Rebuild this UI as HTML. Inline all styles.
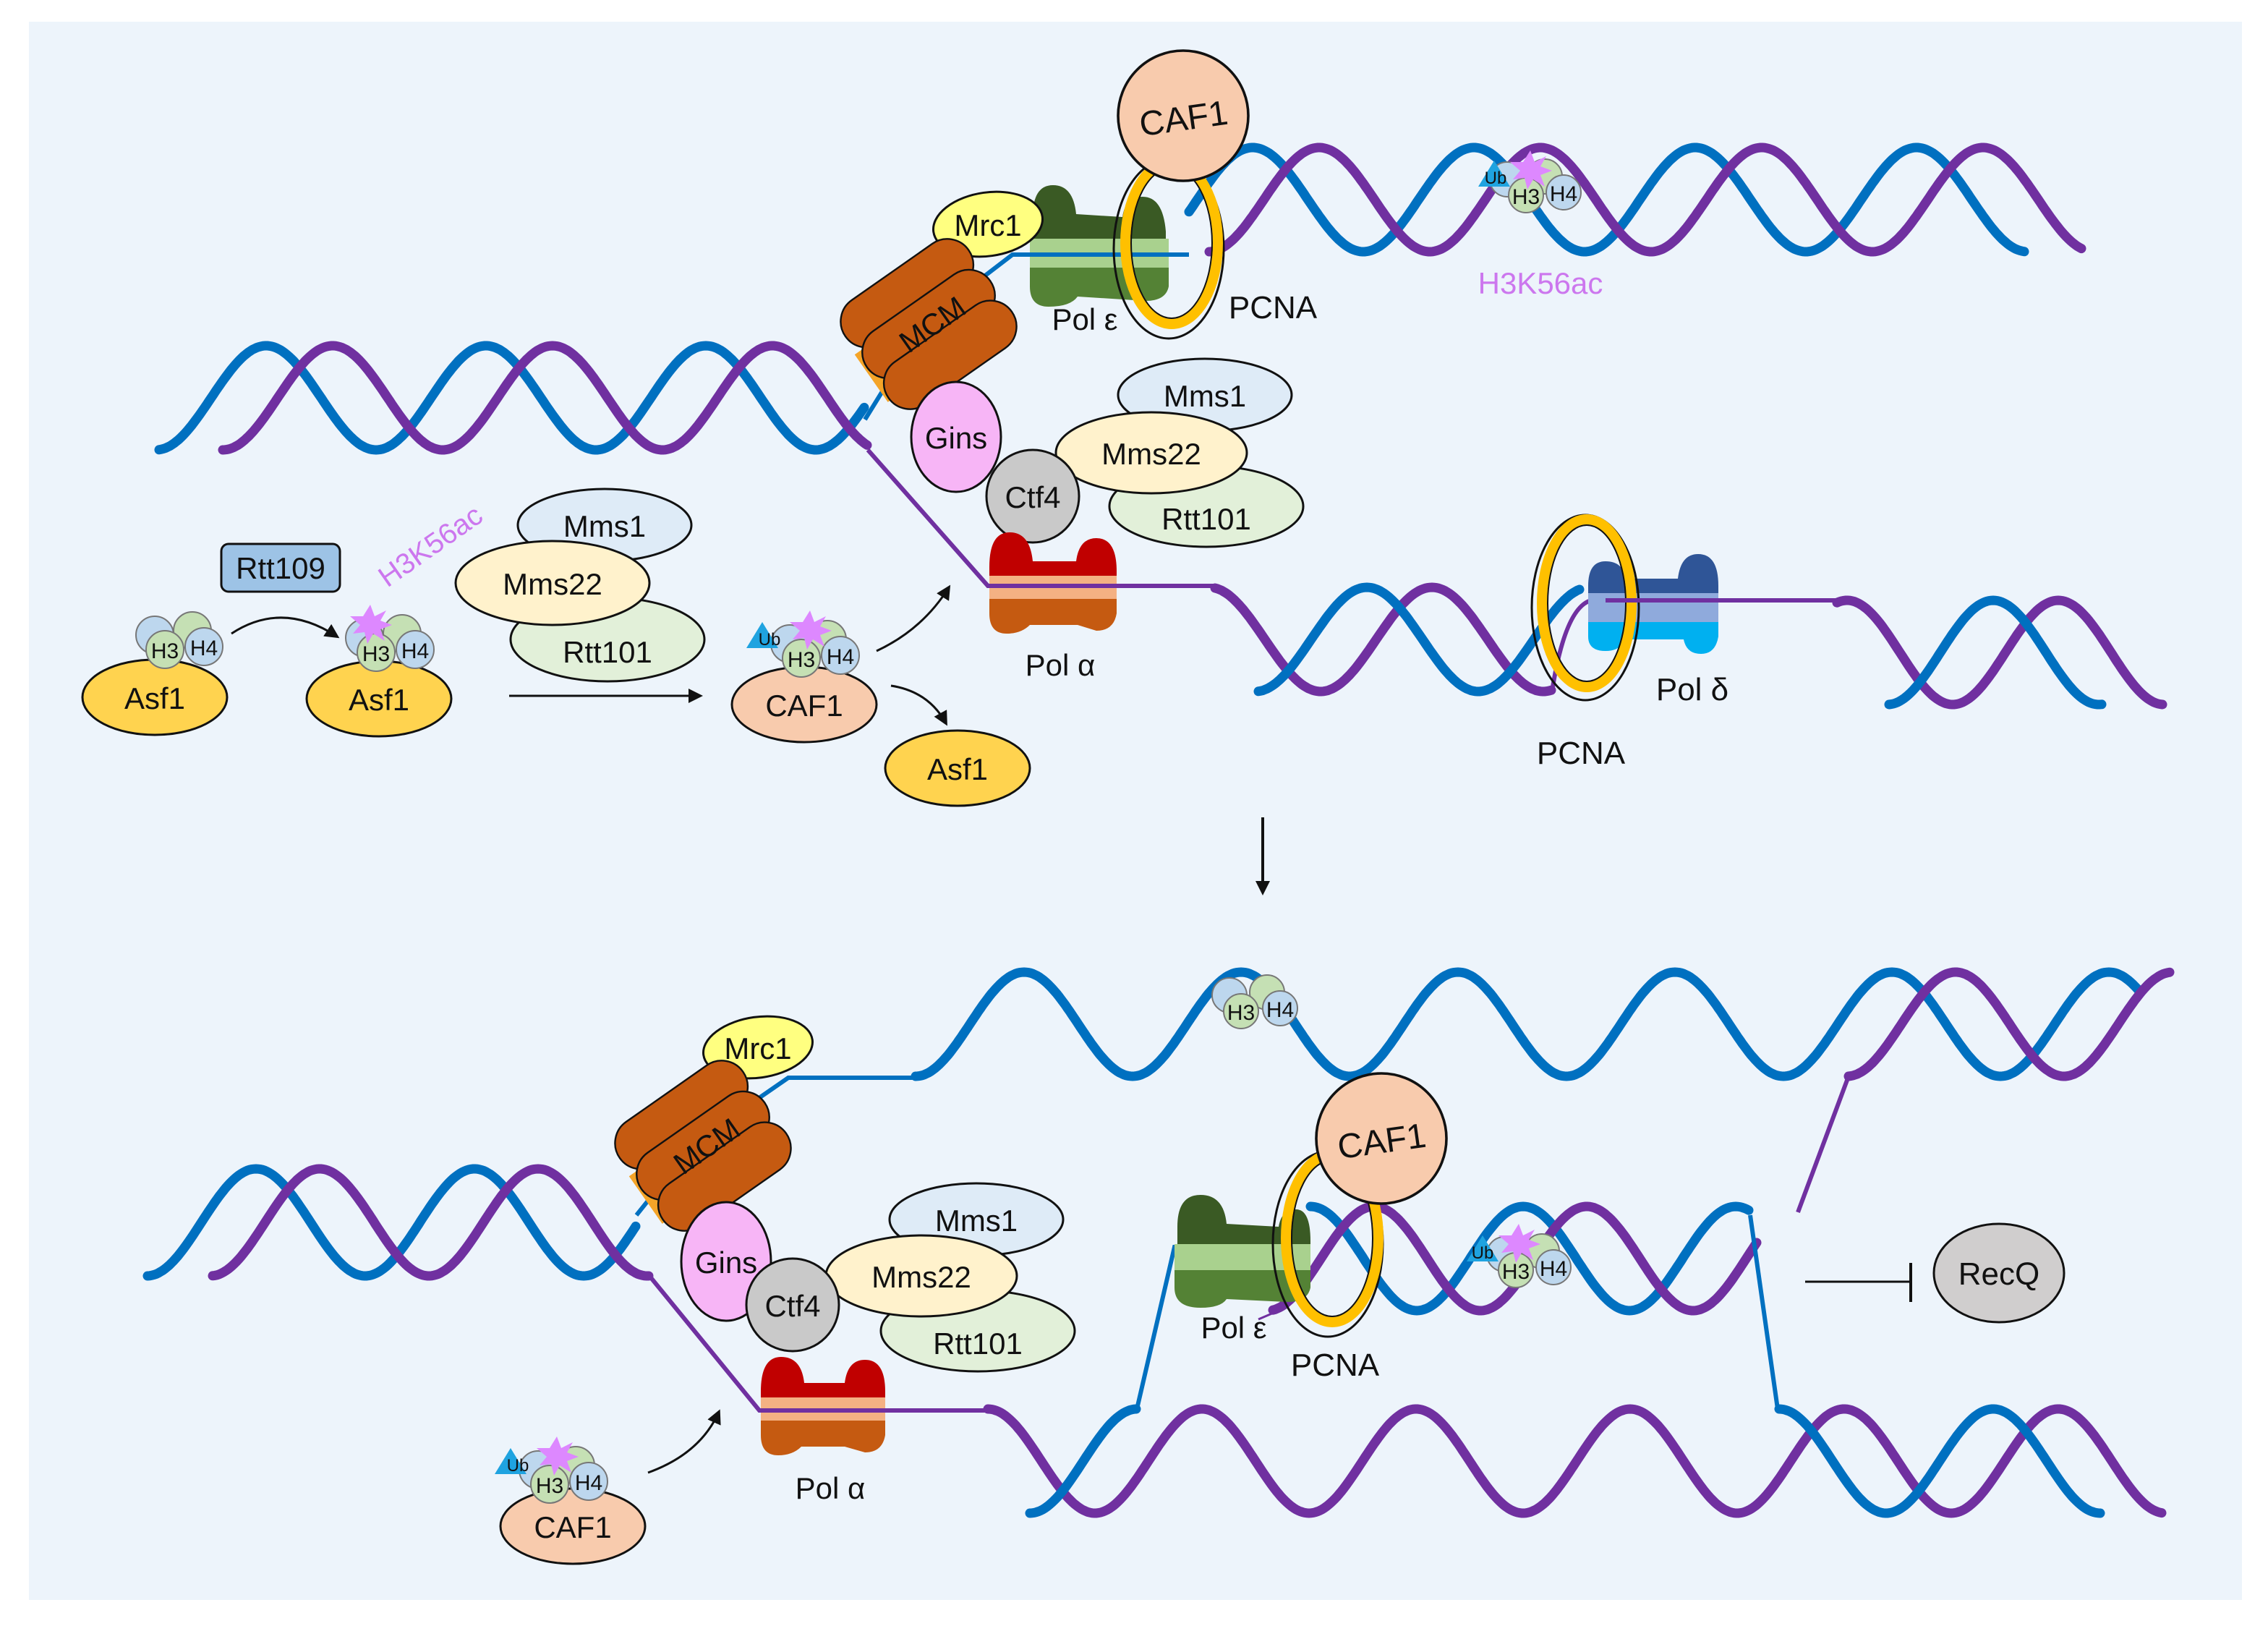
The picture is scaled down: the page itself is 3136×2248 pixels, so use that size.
<!DOCTYPE html>
<html><head><meta charset="utf-8"><style>
html,body{margin:0;padding:0;background:#fff}
svg{display:block}
text{font-family:"Liberation Sans",sans-serif;fill:#111}
</style></head><body>
<svg id="s" width="3136" height="2248" viewBox="0 0 1568 1124" xmlns="http://www.w3.org/2000/svg">
<defs>
<marker id="ah" markerWidth="10" markerHeight="10" refX="8" refY="5" orient="auto" markerUnits="userSpaceOnUse"><path d="M0,0 L10,5 L0,10 z" fill="#111"/></marker>
</defs>
<rect x="0" y="0" width="1568" height="1124" fill="#fff"/>
<rect x="20" y="15" width="1530" height="1091" fill="#edf4fb"/>
<g id="dna" fill="none" stroke-width="6.5" stroke-linecap="round"></g>
<g fill="none" stroke-width="3">
 <path d="M598,290 L640,222 L700,176 L822,176" stroke="#0070c0"/>
 <path d="M600,311 L683,405 L840,405" stroke="#7030a0"/>
 <path d="M1073,478 Q1082,420 1100,415 L1280,415" stroke="#7030a0"/>
 <path d="M440,840 L480,790 L545,745 L632,745" stroke="#0070c0"/>
 <path d="M449,882 L525,975 L690,975" stroke="#7030a0"/>
 <path d="M786,974 L812,862 L902,862" stroke="#0070c0"/>
 <path d="M1210,840 L1229,974" stroke="#0070c0"/>
 <path d="M1243,838 L1278,744" stroke="#7030a0"/>
</g>

<g>
 <path d="M714,150 Q714,128 728,128 Q742,128 744,148 L776,150 Q778,136 790,136 Q804,136 806,160 L806,170 L714,170 Z" fill="#3a5a24"/>
 <rect x="712" y="165" width="96" height="20" fill="#a9d18e"/>
 <path d="M712,185 L808,185 L808,198 Q806,208 792,208 L745,205 Q740,212 725,212 Q712,212 712,198 Z" fill="#548235"/>
 <line x1="712" y1="176" x2="822" y2="176" stroke="#0070c0" stroke-width="3"/>
</g>
<text x="750" y="228" font-size="21" text-anchor="middle">Pol ε</text>
<ellipse cx="808" cy="172" rx="38" ry="62" fill="none" stroke="#111" stroke-width="1.5"/>
<ellipse cx="810" cy="168" rx="32" ry="56" fill="none" stroke="#ffc000" stroke-width="7"/>
<ellipse cx="810" cy="168" rx="28" ry="52" fill="none" stroke="#111" stroke-width="1"/>
<circle cx="818" cy="80" r="45" fill="#f8cbad" stroke="#111" stroke-width="1.8"/>
<text x="818" y="90" font-size="24" text-anchor="middle" transform="rotate(-8 818 80)">CAF1</text>
<text x="880" y="220" font-size="22" text-anchor="middle">PCNA</text>
<ellipse cx="683" cy="155" rx="38" ry="22" fill="#ffff80" stroke="#111" stroke-width="1.5" transform="rotate(-8 683 155)"/>
<text x="683" y="163" font-size="21" text-anchor="middle">Mrc1</text>
<g transform="rotate(-35 642 224)">
 <rect x="588" y="212" width="10" height="40" fill="#f4a428"/>
 <rect x="590" y="180" width="104" height="36" rx="18" fill="#c55a11" stroke="#111" stroke-width="1.2"/>
 <rect x="590" y="206" width="104" height="36" rx="18" fill="#c55a11" stroke="#111" stroke-width="1.2"/>
 <rect x="590" y="232" width="104" height="36" rx="18" fill="#c55a11" stroke="#111" stroke-width="1.2"/>
 <text x="644" y="233" font-size="21" text-anchor="middle">MCM</text>
</g>
<ellipse cx="833" cy="273" rx="60" ry="25" fill="#deebf7" stroke="#111" stroke-width="1.5"/>
<text x="833" y="281" font-size="21" text-anchor="middle">Mms1</text>
<ellipse cx="834" cy="350" rx="67" ry="28" fill="#e2f0d9" stroke="#111" stroke-width="1.5"/>
<text x="834" y="366" font-size="21" text-anchor="middle">Rtt101</text>
<ellipse cx="796" cy="313" rx="66" ry="28" fill="#fff2cc" stroke="#111" stroke-width="1.5"/>
<text x="796" y="321" font-size="21" text-anchor="middle">Mms22</text>
<ellipse cx="661" cy="302" rx="31" ry="38" fill="#f7b5f6" stroke="#111" stroke-width="1.5"/>
<text x="661" y="310" font-size="21" text-anchor="middle">Gins</text>
<circle cx="714" cy="343" r="32" fill="#c9c9c9" stroke="#111" stroke-width="1.5"/>
<text x="714" y="351" font-size="21" text-anchor="middle">Ctf4</text>
<g>
 <path d="M684,392 Q684,368 698,368 Q712,368 714,388 L744,388 Q746,372 758,372 Q772,372 772,395 L772,400 L684,400 Z" fill="#c00000"/>
 <rect x="684" y="398" width="88" height="18" fill="#f4b183"/>
 <path d="M684,414 L772,414 L772,424 Q770,436 758,436 L745,432 L712,432 Q706,438 696,438 Q684,438 684,424 Z" fill="#c55a11"/>
 <line x1="684" y1="405" x2="772" y2="405" stroke="#7030a0" stroke-width="3"/>
</g>
<text x="733" y="467" font-size="21" text-anchor="middle">Pol α</text>
<g>
 <path d="M1098,405 Q1098,388 1110,388 Q1122,388 1124,400 L1160,400 Q1162,383 1174,383 Q1188,383 1188,405 L1188,412 L1098,412 Z" fill="#2f5597"/>
 <rect x="1098" y="410" width="90" height="22" fill="#8faadc"/>
 <path d="M1098,430 L1188,430 L1188,440 Q1186,452 1176,452 Q1166,452 1164,442 L1124,442 Q1120,450 1110,450 Q1098,450 1098,440 Z" fill="#00b0f0"/>
</g>
<ellipse cx="1096" cy="420" rx="37" ry="64" fill="none" stroke="#111" stroke-width="1.5"/>
<ellipse cx="1097" cy="417" rx="31" ry="58" fill="none" stroke="#ffc000" stroke-width="7"/>
<ellipse cx="1097" cy="417" rx="27" ry="54" fill="none" stroke="#111" stroke-width="1"/>
<path d="M1110,415 L1280,415" stroke="#7030a0" stroke-width="3"/>
<text x="1170" y="484" font-size="22" text-anchor="middle">Pol δ</text>
<text x="1093" y="528" font-size="22" text-anchor="middle">PCNA</text>
<g>
 <circle cx="1042" cy="124" r="12" fill="#bdd7ee" stroke="#777" stroke-width="1"/>
 <circle cx="1068" cy="122" r="12" fill="#c5e0b4" stroke="#777" stroke-width="1"/>
 <circle cx="1055" cy="135" r="12" fill="#c5e0b4" stroke="#777" stroke-width="1"/>
 <circle cx="1081" cy="133" r="12" fill="#bdd7ee" stroke="#777" stroke-width="1"/>
 <polygon points="1022,129 1033,111 1044,129" fill="#1fa3e0"/>
 <polygon points="1058,104 1061,112 1069,108 1065,115 1073,118 1065,121 1068,129 1060,124 1056,131 1054,123 1046,124 1051,118 1044,112 1053,112" fill="#dd88ff"/>
 <text x="1034" y="127" font-size="12" text-anchor="middle">Ub</text>
 <text x="1055" y="141" font-size="15" text-anchor="middle">H3</text>
 <text x="1081" y="139" font-size="15" text-anchor="middle">H4</text>
</g>
<text x="1065" y="203" font-size="21" text-anchor="middle" style="fill:#cc77ee">H3K56ac</text>

<ellipse cx="107" cy="482" rx="50" ry="26" fill="#ffd34f" stroke="#111" stroke-width="1.5"/>
<text x="107" y="490" font-size="21" text-anchor="middle">Asf1</text>
<g>
 <circle cx="107" cy="439" r="13" fill="#bdd7ee" stroke="#777"/>
 <circle cx="133" cy="436" r="13" fill="#c5e0b4" stroke="#777"/>
 <circle cx="114" cy="449" r="13" fill="#c5e0b4" stroke="#777"/>
 <circle cx="141" cy="447" r="13" fill="#bdd7ee" stroke="#777"/>
 <text x="114" y="455" font-size="15" text-anchor="middle">H3</text>
 <text x="141" y="453" font-size="15" text-anchor="middle">H4</text>
</g>
<path d="M160,438 Q195,415 233,440" fill="none" stroke="#111" stroke-width="1.5" marker-end="url(#ah)"/>
<rect x="153" y="376" width="82" height="33" rx="5" fill="#9dc3e6" stroke="#111" stroke-width="1.5"/>
<text x="194" y="400" font-size="21" text-anchor="middle">Rtt109</text>
<text x="298" y="384" font-size="20" text-anchor="middle" transform="rotate(-35 298 378)" style="fill:#cc77ee">H3K56ac</text>
<ellipse cx="262" cy="483" rx="50" ry="26" fill="#ffd34f" stroke="#111" stroke-width="1.5"/>
<text x="262" y="491" font-size="21" text-anchor="middle">Asf1</text>
<g>
 <circle cx="252" cy="441" r="13" fill="#bdd7ee" stroke="#777"/>
 <circle cx="278" cy="438" r="13" fill="#c5e0b4" stroke="#777"/>
 <circle cx="260" cy="451" r="13" fill="#c5e0b4" stroke="#777"/>
 <circle cx="287" cy="449" r="13" fill="#bdd7ee" stroke="#777"/>
 <polygon points="256,418 259,426 267,422 263,429 271,432 263,435 266,443 258,438 254,445 252,437 244,438 249,432 242,426 251,426" fill="#dd88ff"/>
 <text x="260" y="457" font-size="15" text-anchor="middle">H3</text>
 <text x="287" y="455" font-size="15" text-anchor="middle">H4</text>
</g>
<ellipse cx="418" cy="363" rx="60" ry="25" fill="#deebf7" stroke="#111" stroke-width="1.5"/>
<text x="418" y="371" font-size="21" text-anchor="middle">Mms1</text>
<ellipse cx="420" cy="442" rx="67" ry="29" fill="#e2f0d9" stroke="#111" stroke-width="1.5"/>
<text x="420" y="458" font-size="21" text-anchor="middle">Rtt101</text>
<ellipse cx="382" cy="403" rx="67" ry="29" fill="#fff2cc" stroke="#111" stroke-width="1.5"/>
<text x="382" y="411" font-size="21" text-anchor="middle">Mms22</text>
<line x1="352" y1="481" x2="484" y2="481" stroke="#111" stroke-width="1.5" marker-end="url(#ah)"/>
<ellipse cx="556" cy="487" rx="50" ry="26" fill="#f8cbad" stroke="#111" stroke-width="1.5"/>
<text x="556" y="495" font-size="21" text-anchor="middle">CAF1</text>
<g>
 <circle cx="546" cy="445" r="13" fill="#bdd7ee" stroke="#777"/>
 <circle cx="572" cy="442" r="13" fill="#c5e0b4" stroke="#777"/>
 <circle cx="554" cy="455" r="13" fill="#c5e0b4" stroke="#777"/>
 <circle cx="581" cy="453" r="13" fill="#bdd7ee" stroke="#777"/>
 <polygon points="516,448 527,430 538,448" fill="#1fa3e0"/>
 <polygon points="560,422 563,430 571,426 567,433 575,436 567,439 570,447 562,442 558,449 556,441 548,442 553,436 546,430 555,430" fill="#dd88ff"/>
 <text x="532" y="446" font-size="12" text-anchor="middle">Ub</text>
 <text x="554" y="461" font-size="15" text-anchor="middle">H3</text>
 <text x="581" y="459" font-size="15" text-anchor="middle">H4</text>
</g>
<path d="M606,450 Q638,435 656,406" fill="none" stroke="#111" stroke-width="1.5" marker-end="url(#ah)"/>
<path d="M616,474 Q642,478 654,500" fill="none" stroke="#111" stroke-width="1.5" marker-end="url(#ah)"/>
<ellipse cx="662" cy="531" rx="50" ry="26" fill="#ffd34f" stroke="#111" stroke-width="1.5"/>
<text x="662" y="539" font-size="21" text-anchor="middle">Asf1</text>
<line x1="873" y1="565" x2="873" y2="617" stroke="#111" stroke-width="2" marker-end="url(#ah)"/>

<g>
 <circle cx="850" cy="688" r="12" fill="#bdd7ee" stroke="#777"/>
 <circle cx="876" cy="686" r="12" fill="#c5e0b4" stroke="#777"/>
 <circle cx="858" cy="699" r="12" fill="#c5e0b4" stroke="#777"/>
 <circle cx="885" cy="697" r="12" fill="#bdd7ee" stroke="#777"/>
 <text x="858" y="705" font-size="15" text-anchor="middle">H3</text>
 <text x="885" y="703" font-size="15" text-anchor="middle">H4</text>
</g>
<ellipse cx="524" cy="724" rx="38" ry="21" fill="#ffff80" stroke="#111" stroke-width="1.5" transform="rotate(-8 524 724)"/>
<text x="524" y="732" font-size="21" text-anchor="middle">Mrc1</text>
<g transform="rotate(-35 486 792)">
 <rect x="432" y="780" width="10" height="40" fill="#f4a428"/>
 <rect x="434" y="748" width="104" height="36" rx="18" fill="#c55a11" stroke="#111" stroke-width="1.2"/>
 <rect x="434" y="774" width="104" height="36" rx="18" fill="#c55a11" stroke="#111" stroke-width="1.2"/>
 <rect x="434" y="800" width="104" height="36" rx="18" fill="#c55a11" stroke="#111" stroke-width="1.2"/>
 <text x="488" y="801" font-size="21" text-anchor="middle">MCM</text>
</g>
<ellipse cx="675" cy="843" rx="60" ry="25" fill="#deebf7" stroke="#111" stroke-width="1.5"/>
<text x="675" y="851" font-size="21" text-anchor="middle">Mms1</text>
<ellipse cx="676" cy="920" rx="67" ry="28" fill="#e2f0d9" stroke="#111" stroke-width="1.5"/>
<text x="676" y="936" font-size="21" text-anchor="middle">Rtt101</text>
<ellipse cx="637" cy="882" rx="66" ry="28" fill="#fff2cc" stroke="#111" stroke-width="1.5"/>
<text x="637" y="890" font-size="21" text-anchor="middle">Mms22</text>
<ellipse cx="502" cy="872" rx="31" ry="41" fill="#f7b5f6" stroke="#111" stroke-width="1.5"/>
<text x="502" y="880" font-size="21" text-anchor="middle">Gins</text>
<circle cx="548" cy="902" r="32" fill="#c9c9c9" stroke="#111" stroke-width="1.5"/>
<text x="548" y="910" font-size="21" text-anchor="middle">Ctf4</text>
<g>
 <path d="M526,962 Q526,938 540,938 Q554,938 556,956 L584,956 Q586,940 598,940 Q612,940 612,962 L612,968 L526,968 Z" fill="#c00000"/>
 <rect x="526" y="966" width="86" height="18" fill="#f4b183"/>
 <path d="M526,982 L612,982 L612,992 Q610,1004 598,1004 L584,1000 L554,1000 Q548,1006 538,1006 Q526,1006 526,992 Z" fill="#c55a11"/>
 <line x1="526" y1="975" x2="612" y2="975" stroke="#7030a0" stroke-width="3"/>
</g>
<text x="574" y="1036" font-size="21" text-anchor="middle">Pol α</text>
<ellipse cx="396" cy="1055" rx="50" ry="26" fill="#f8cbad" stroke="#111" stroke-width="1.5"/>
<text x="396" y="1063" font-size="21" text-anchor="middle">CAF1</text>
<g>
 <circle cx="372" cy="1016" r="13" fill="#bdd7ee" stroke="#777"/>
 <circle cx="398" cy="1013" r="13" fill="#c5e0b4" stroke="#777"/>
 <circle cx="380" cy="1026" r="13" fill="#c5e0b4" stroke="#777"/>
 <circle cx="407" cy="1024" r="13" fill="#bdd7ee" stroke="#777"/>
 <polygon points="342,1019 353,1001 364,1019" fill="#1fa3e0"/>
 <polygon points="385,993 388,1001 396,997 392,1004 400,1007 392,1010 395,1018 387,1013 383,1020 381,1012 373,1013 378,1007 371,1001 380,1001" fill="#dd88ff"/>
 <text x="358" y="1017" font-size="12" text-anchor="middle">Ub</text>
 <text x="380" y="1032" font-size="15" text-anchor="middle">H3</text>
 <text x="407" y="1030" font-size="15" text-anchor="middle">H4</text>
</g>
<path d="M448,1018 Q484,1005 497,976" fill="none" stroke="#111" stroke-width="1.5" marker-end="url(#ah)"/>
<g>
 <path d="M814,848 Q814,826 830,826 Q846,826 848,846 L884,848 Q886,836 896,836 Q906,836 906,858 L906,862 L814,862 Z" fill="#3a5a24"/>
 <rect x="812" y="860" width="94" height="20" fill="#a9d18e"/>
 <path d="M812,878 L906,878 L906,890 Q904,900 890,900 L848,898 Q844,904 830,904 Q812,904 812,890 Z" fill="#548235"/>
</g>
<text x="853" y="925" font-size="21" text-anchor="middle">Pol ε</text>
<path d="M870,912 L884,906" stroke="#7030a0" stroke-width="1.5"/>
<ellipse cx="918" cy="860" rx="38" ry="64" fill="none" stroke="#111" stroke-width="1.5"/>
<ellipse cx="921" cy="856" rx="32" ry="58" fill="none" stroke="#ffc000" stroke-width="7"/>
<ellipse cx="921" cy="856" rx="28" ry="54" fill="none" stroke="#111" stroke-width="1"/>
<circle cx="955" cy="787" r="45" fill="#f8cbad" stroke="#111" stroke-width="1.8"/>
<text x="955" y="797" font-size="24" text-anchor="middle" transform="rotate(-8 955 787)">CAF1</text>
<text x="923" y="951" font-size="22" text-anchor="middle">PCNA</text>
<g>
 <circle cx="1040" cy="867" r="12" fill="#bdd7ee" stroke="#777"/>
 <circle cx="1066" cy="865" r="12" fill="#c5e0b4" stroke="#777"/>
 <circle cx="1048" cy="878" r="12" fill="#c5e0b4" stroke="#777"/>
 <circle cx="1074" cy="876" r="12" fill="#bdd7ee" stroke="#777"/>
 <polygon points="1014,872 1025,854 1036,872" fill="#1fa3e0"/>
 <polygon points="1050,846 1053,854 1061,850 1057,857 1065,860 1057,863 1060,871 1052,866 1048,873 1046,865 1038,866 1043,860 1036,854 1045,854" fill="#dd88ff"/>
 <text x="1025" y="870" font-size="12" text-anchor="middle">Ub</text>
 <text x="1048" y="884" font-size="15" text-anchor="middle">H3</text>
 <text x="1074" y="882" font-size="15" text-anchor="middle">H4</text>
</g>
<line x1="1248" y1="886" x2="1320" y2="886" stroke="#111" stroke-width="1.5"/>
<line x1="1321" y1="873" x2="1321" y2="900" stroke="#111" stroke-width="2"/>
<ellipse cx="1382" cy="880" rx="45" ry="34" fill="#d0cece" stroke="#111" stroke-width="1.5"/>
<text x="1382" y="888" font-size="22" text-anchor="middle">RecQ</text>
</svg>
<script>
(function(){
var g=document.getElementById('dna');
function strand(x0,x1,cy,A,P,xp,col){
 var d='';for(var x=x0;x<=x1+0.01;x+=1.5){var y=cy-A*Math.cos(2*Math.PI*(x-xp)/P);d+=(x==x0?'M':'L')+x.toFixed(1)+','+y.toFixed(1);}
 var p=document.createElementNS('http://www.w3.org/2000/svg','path');p.setAttribute('d',d);p.setAttribute('stroke',col);g.appendChild(p);}
var B='#0070c0',V='#7030a0';
strand(110,598,275,36,152,184,B);strand(154,600,275,36,152,230,V);
strand(822,1400,138,36,153,866,B);strand(836,1440,138,36,153,912,V);
strand(840,1073,442,36,154,990,V);strand(870,1092,442,36,154,945,B);
strand(1270,1496,451,36,146,1423,V);strand(1306,1453,451,36,146,1378,B);
strand(102,440,845,37,151,177,B);strand(147,449,845,37,151,221,V);
strand(633,1480,708,36,150,708,B);strand(1278,1500,708,36,150,1352,V);
strand(906,1210,870,36,147,906,B);strand(880,1215,870,36,147,950,V);
strand(683,1495,1010,36,148,831,V);strand(712,786,1010,36,148,786,B);strand(1230,1452,1010,36,148,1230,B);
})();
</script>
</body></html>
